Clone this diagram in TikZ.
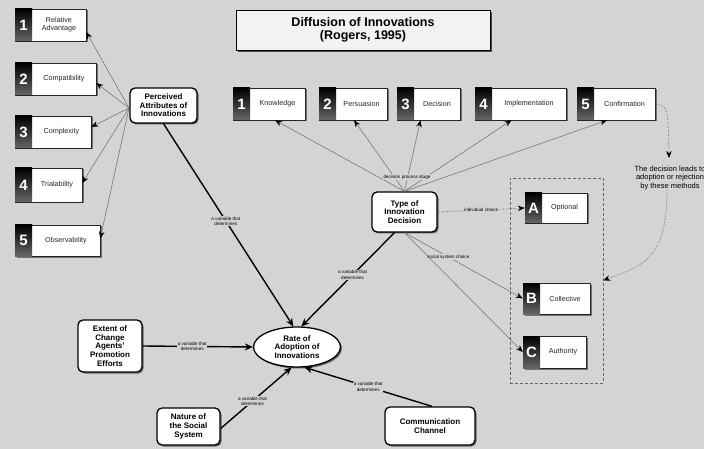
\documentclass[tikz,border=0pt]{standalone}
\usepackage{fontspec}
\setmainfont{Liberation Sans}
\usetikzlibrary{arrows.meta,shadows,shapes.geometric}
\definecolor{bgc}{HTML}{D4D4D4}
\newcommand\NBox[7]{%
  \node[numframe, minimum width={#4-#2}, minimum height={#5-#3}] (#1) at ({(#2+#4)/2},{(#3+#5)/2}) {};
  \node[numsq, minimum height={#5-#3}] (#1n) at ({#2+8.5},{(#3+#5)/2}) {#6};
  \node[numtxt] (#1t) at ({(#2+17+#4)/2},{(#3+#5)/2}) {#7};
}
\begin{document}
\begin{tikzpicture}[x=1pt,y=-1pt,
  numframe/.style={draw=black!85, line width=0.5pt, fill=white, inner sep=0pt,
    drop shadow={shadow xshift=1.5pt, shadow yshift=-1.5pt, fill=black!55, opacity=1}},
  numsq/.style={top color=black, bottom color=black!60, minimum width=17, inner sep=0pt, text=white,
    font=\fontsize{15}{15}\selectfont\bfseries},
  numtxt/.style={font=\fontsize{7.2}{8}\selectfont, align=center, text=black!85, inner sep=0pt},
  rbox/.style={draw, line width=1.3pt, rounded corners=5pt, fill=white, align=center, inner sep=1pt,
    font=\fontsize{8}{8.6}\selectfont\bfseries,
    drop shadow={shadow xshift=1.5pt, shadow yshift=-1.5pt, fill=black!60, opacity=1}},
  lab/.style={font=\fontsize{4.6}{5.2}\selectfont, fill=bgc, inner sep=0.6pt, align=center},
  thickarr/.style={line width=1.4pt, -{Stealth[length=8pt,width=7pt]}},
  thinarr/.style={line width=0.55pt, draw=black!55, -{Stealth[length=7pt,width=5.5pt,black]}},
  dotarr/.style={line width=0.6pt, draw=black!60, densely dotted, -{Stealth[length=7pt,width=5.5pt,black]}},
]
\useasboundingbox[fill=bgc] (0,0) rectangle (704,449);

% title
\node[draw=black, line width=0.6pt, fill=black!5, minimum width=254, minimum height=40, align=center,
  font=\fontsize{12.5}{13.5}\selectfont\bfseries,
  drop shadow={shadow xshift=2pt, shadow yshift=-2pt, fill=black!70, opacity=1}] (title) at (363,30)
  {Diffusion of Innovations\\(Rogers, 1995)};

% group of decision types
\node[draw=black!60, densely dashed, line width=0.5pt, minimum width=93, minimum height=205, inner sep=0pt] (grp) at (556.5,280.5) {};

% numbered boxes
\NBox{b1}{15}{9}{86}{41}{1}{Relative\\Advantage}
\NBox{b2}{15}{63}{96}{95}{2}{Compatibility}
\NBox{b3}{15}{116}{91}{148}{3}{Complexity}
\NBox{b4}{15}{168}{82}{202}{4}{Trialability}
\NBox{b5}{15}{225}{100}{256}{5}{Observability}
\NBox{k1}{233}{88}{305}{120}{1}{Knowledge}
\NBox{k2}{319}{88}{387}{120}{2}{Persuasion}
\NBox{k3}{397}{88}{460}{120}{3}{Decision}
\NBox{k4}{475}{88}{566}{120}{4}{Implementation}
\NBox{k5}{577}{88}{655}{120}{5}{Confirmation}
\NBox{oA}{525}{193}{587}{223}{A}{Optional}
\NBox{oB}{523}{283}{590}{314}{B}{Collective}
\NBox{oC}{523}{336}{586}{368}{C}{Authority}

% rounded boxes
\node[rbox, minimum width=67, minimum height=35] (perc) at (163.5,105.5) {Perceived\\Attributes of\\Innovations};
\node[rbox, minimum width=65, minimum height=40] (tod) at (404.5,212) {Type of\\Innovation\\Decision};
\node[rbox, minimum width=64, minimum height=52] (ext) at (110,346) {Extent of\\Change\\Agents'\\Promotion\\Efforts};
\node[rbox, minimum width=63, minimum height=37] (nat) at (188.5,426.5) {Nature of\\the Social\\System};
\node[rbox, minimum width=90, minimum height=38] (com) at (430,426) {Communication\\Channel};
\node[ellipse, draw, line width=1.3pt, fill=white, minimum width=87, minimum height=40, inner sep=0pt, align=center,
  font=\fontsize{8}{8.6}\selectfont\bfseries,
  drop shadow={shadow xshift=1.5pt, shadow yshift=-1.5pt, fill=black!60, opacity=1}] (rate) at (297,347)
  {Rate of\\Adoption of\\Innovations};

% note on the right
\node[font=\fontsize{7.5}{8.8}\selectfont, align=center, inner sep=0pt] (note) at (670,178)
  {The decision leads to\\adoption or rejection\\by these methods};

% perceived attributes -> five attributes
\coordinate (pl) at (129,108);
\draw[thinarr] (pl) -- ([yshift=-7pt]b1.east);
\draw[thinarr] (pl) -- ([yshift=-4pt]b2.east);
\draw[thinarr] (pl) -- ([yshift=5pt]b3.east);
\draw[thinarr] (pl) -- ([yshift=2pt]b4.east);
\draw[thinarr] (pl) -- ([yshift=2pt]b5.east);

% type -> stages
\draw[thinarr] (tod.north) -- ([xshift=6pt]k1.south);
\draw[thinarr] (tod.north) -- ([xshift=1pt]k2.south);
\draw[thinarr] (tod.north) -- ([xshift=-8pt]k3.south);
\draw[thinarr] (tod.north) -- ([xshift=-9pt]k4.south);
\draw[thinarr] (tod.north) -- ([xshift=-9pt]k5.south);
\node[lab] (stg) at (407,177) {decision process stage};

% type -> decision kinds
\draw[dotarr] (tod.east) -- (oA.west) node[lab, midway] {individual choice};
\draw[thinarr] (tod.south) -- (oB.west) node[lab, pos=0.37] {social system choice};
\draw[thinarr] (tod.south) -- (oC.west);

% confirmation -> note -> group
\draw[dotarr] (k5.east) .. controls (668,106) .. (669,158);
\draw[dotarr] ([xshift=-3pt]note.south) .. controls (667,262) and (640,266) .. (grp.east);

% variables that determine the rate of adoption
\draw[thickarr] (perc.south) -- (rate.100) node[lab, pos=0.48] {a variable that\\determines};
\draw[thickarr] ([xshift=-10pt]tod.south) -- (rate.78) node[lab, pos=0.45] {a variable that\\determines};
\draw[thickarr] (ext.east) -- (rate.west) node[lab, pos=0.45] {a variable that\\determines};
\draw[thickarr] ([yshift=-2pt]nat.east) -- (rate.255) node[lab, pos=0.45] {a variable that\\determines};
\draw[thickarr] ([xshift=2pt]com.north) -- (rate.290) node[lab, pos=0.5] {a variable that\\determines};
\end{tikzpicture}
\end{document}
